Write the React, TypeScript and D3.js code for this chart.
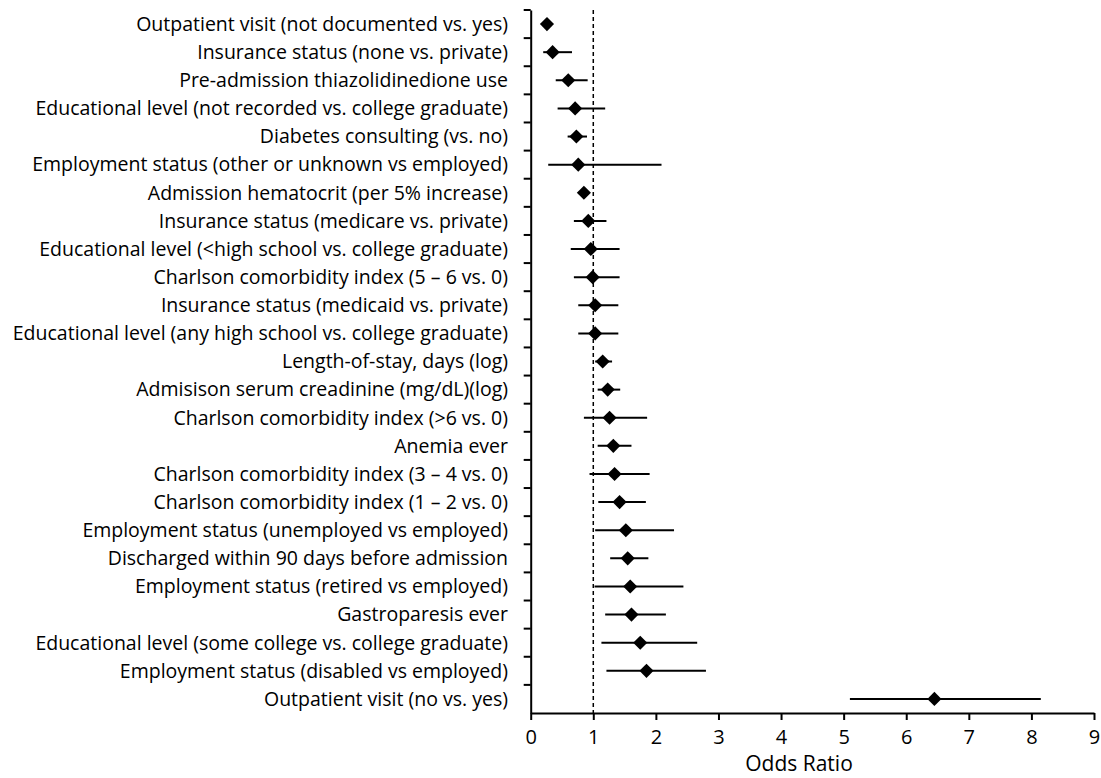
import { useEffect, useRef } from "react"
import * as d3 from "d3"

const labels = [
  "Outpatient visit (not documented vs. yes)",
  "Insurance status (none vs. private)",
  "Pre-admission thiazolidinedione use",
  "Educational level (not recorded vs. college graduate)",
  "Diabetes consulting (vs. no)",
  "Employment status (other or unknown vs employed)",
  "Admission hematocrit (per 5% increase)",
  "Insurance status (medicare vs. private)",
  "Educational level (<high school vs. college graduate)",
  "Charlson comorbidity index (5 \u2013 6 vs. 0)",
  "Insurance status (medicaid vs. private)",
  "Educational level (any high school vs. college graduate)",
  "Length-of-stay, days (log)",
  "Admisison serum creadinine (mg/dL)(log)",
  "Charlson comorbidity index (>6 vs. 0)",
  "Anemia ever",
  "Charlson comorbidity index (3 \u2013 4 vs. 0)",
  "Charlson comorbidity index (1 \u2013 2 vs. 0)",
  "Employment status (unemployed vs employed)",
  "Discharged within 90 days before admission",
  "Employment status (retired vs employed)",
  "Gastroparesis ever",
  "Educational level (some college vs. college graduate)",
  "Employment status (disabled vs employed)",
  "Outpatient visit (no vs. yes)",
]
const oddsRatio = [0.26, 0.35, 0.6, 0.71, 0.73, 0.76, 0.85, 0.92, 0.96, 0.99, 1.03, 1.03, 1.15, 1.23, 1.26, 1.32, 1.34, 1.42, 1.52, 1.55, 1.59, 1.61, 1.75, 1.85, 6.45]
const lower = [0.2, 0.2, 0.4, 0.43, 0.59, 0.28, 0.8, 0.69, 0.64, 0.69, 0.76, 0.76, 1.03, 1.07, 0.85, 1.07, 0.94, 1.08, 1.03, 1.27, 1.02, 1.19, 1.13, 1.21, 5.1]
const upper = [0.32, 0.66, 0.91, 1.19, 0.9, 2.09, 0.9, 1.21, 1.42, 1.42, 1.4, 1.4, 1.3, 1.43, 1.86, 1.61, 1.9, 1.84, 2.29, 1.88, 2.44, 2.16, 2.66, 2.8, 8.15]
const xTicks = [0, 1, 2, 3, 4, 5, 6, 7, 8, 9]

const ForestChart = () => {
  const svgRef = useRef<SVGSVGElement>(null)

  useEffect(() => {
    const svg = d3.select(svgRef.current)
    svg.selectAll("*").remove()
    const font = "Open Sans, sans-serif"
    const left = 530.7
    const right = 1094
    const top = 10
    const bottom = 713

    const x = d3.scaleLinear().domain([0, 9]).range([left, right])
    const y = d3.scaleBand().domain(labels).range([top, bottom])

    // reference line at OR = 1
    svg.append("line")
      .attr("x1", x(1)).attr("x2", x(1))
      .attr("y1", top).attr("y2", bottom)
      .attr("stroke", "#000").attr("stroke-width", 1.5)
      .attr("stroke-dasharray", "4,3")

    const xAxis = svg.append("g")
      .attr("transform", `translate(0,${bottom})`)
      .call(d3.axisBottom(x).tickValues(xTicks).tickSize(7).tickSizeOuter(0).tickPadding(10))
    xAxis.select(".domain").attr("stroke-width", 2)
    xAxis.selectAll(".tick line").attr("stroke-width", 2)
    xAxis.selectAll("text").style("font-family", font).style("font-size", "20px").attr("fill", "#000")

    const yAxis = svg.append("g")
      .attr("transform", `translate(${left},0)`)
      .call(d3.axisLeft(y).tickValues([]).tickSizeOuter(0))
    yAxis.select(".domain").attr("stroke-width", 2)
    // category boundary ticks
    yAxis.selectAll(".bt")
      .data(labels)
      .join("line")
      .attr("x1", -7).attr("x2", 0)
      .attr("y1", d => y(d)!).attr("y2", d => y(d)!)
      .attr("stroke", "#000").attr("stroke-width", 2)

    svg.append("g").selectAll("text")
      .data(labels)
      .join("text")
      .attr("x", 508)
      .attr("y", d => y(d)! + y.bandwidth() / 2)
      .attr("dy", "0.35em")
      .attr("text-anchor", "end")
      .style("font-family", font)
      .style("font-size", "19.5px")
      .text(d => d)

    const rows = labels.map((l, i) => ({ l, or: oddsRatio[i], lo: lower[i], hi: upper[i] }))
    svg.append("g").selectAll("line")
      .data(rows)
      .join("line")
      .attr("x1", d => x(d.lo)).attr("x2", d => x(d.hi))
      .attr("y1", d => y(d.l)! + y.bandwidth() / 2)
      .attr("y2", d => y(d.l)! + y.bandwidth() / 2)
      .attr("stroke", "#000").attr("stroke-width", 2)

    svg.append("g").selectAll("path")
      .data(rows)
      .join("path")
      .attr("d", d3.symbol(d3.symbolSquare, 100)())
      .attr("transform", d => `translate(${x(d.or)},${y(d.l)! + y.bandwidth() / 2}) rotate(45)`)
      .attr("fill", "#000")

    svg.append("text")
      .attr("x", 799)
      .attr("y", 771)
      .attr("text-anchor", "middle")
      .style("font-family", font)
      .style("font-size", "21px")
      .text("Odds Ratio")
  }, [])

  return (
    <svg ref={svgRef} width={1101} height={778} style={{ position: "absolute", left: 0, top: 0, background: "#fff" }} />
  )
}

export default function App() {
  return <ForestChart />
}
